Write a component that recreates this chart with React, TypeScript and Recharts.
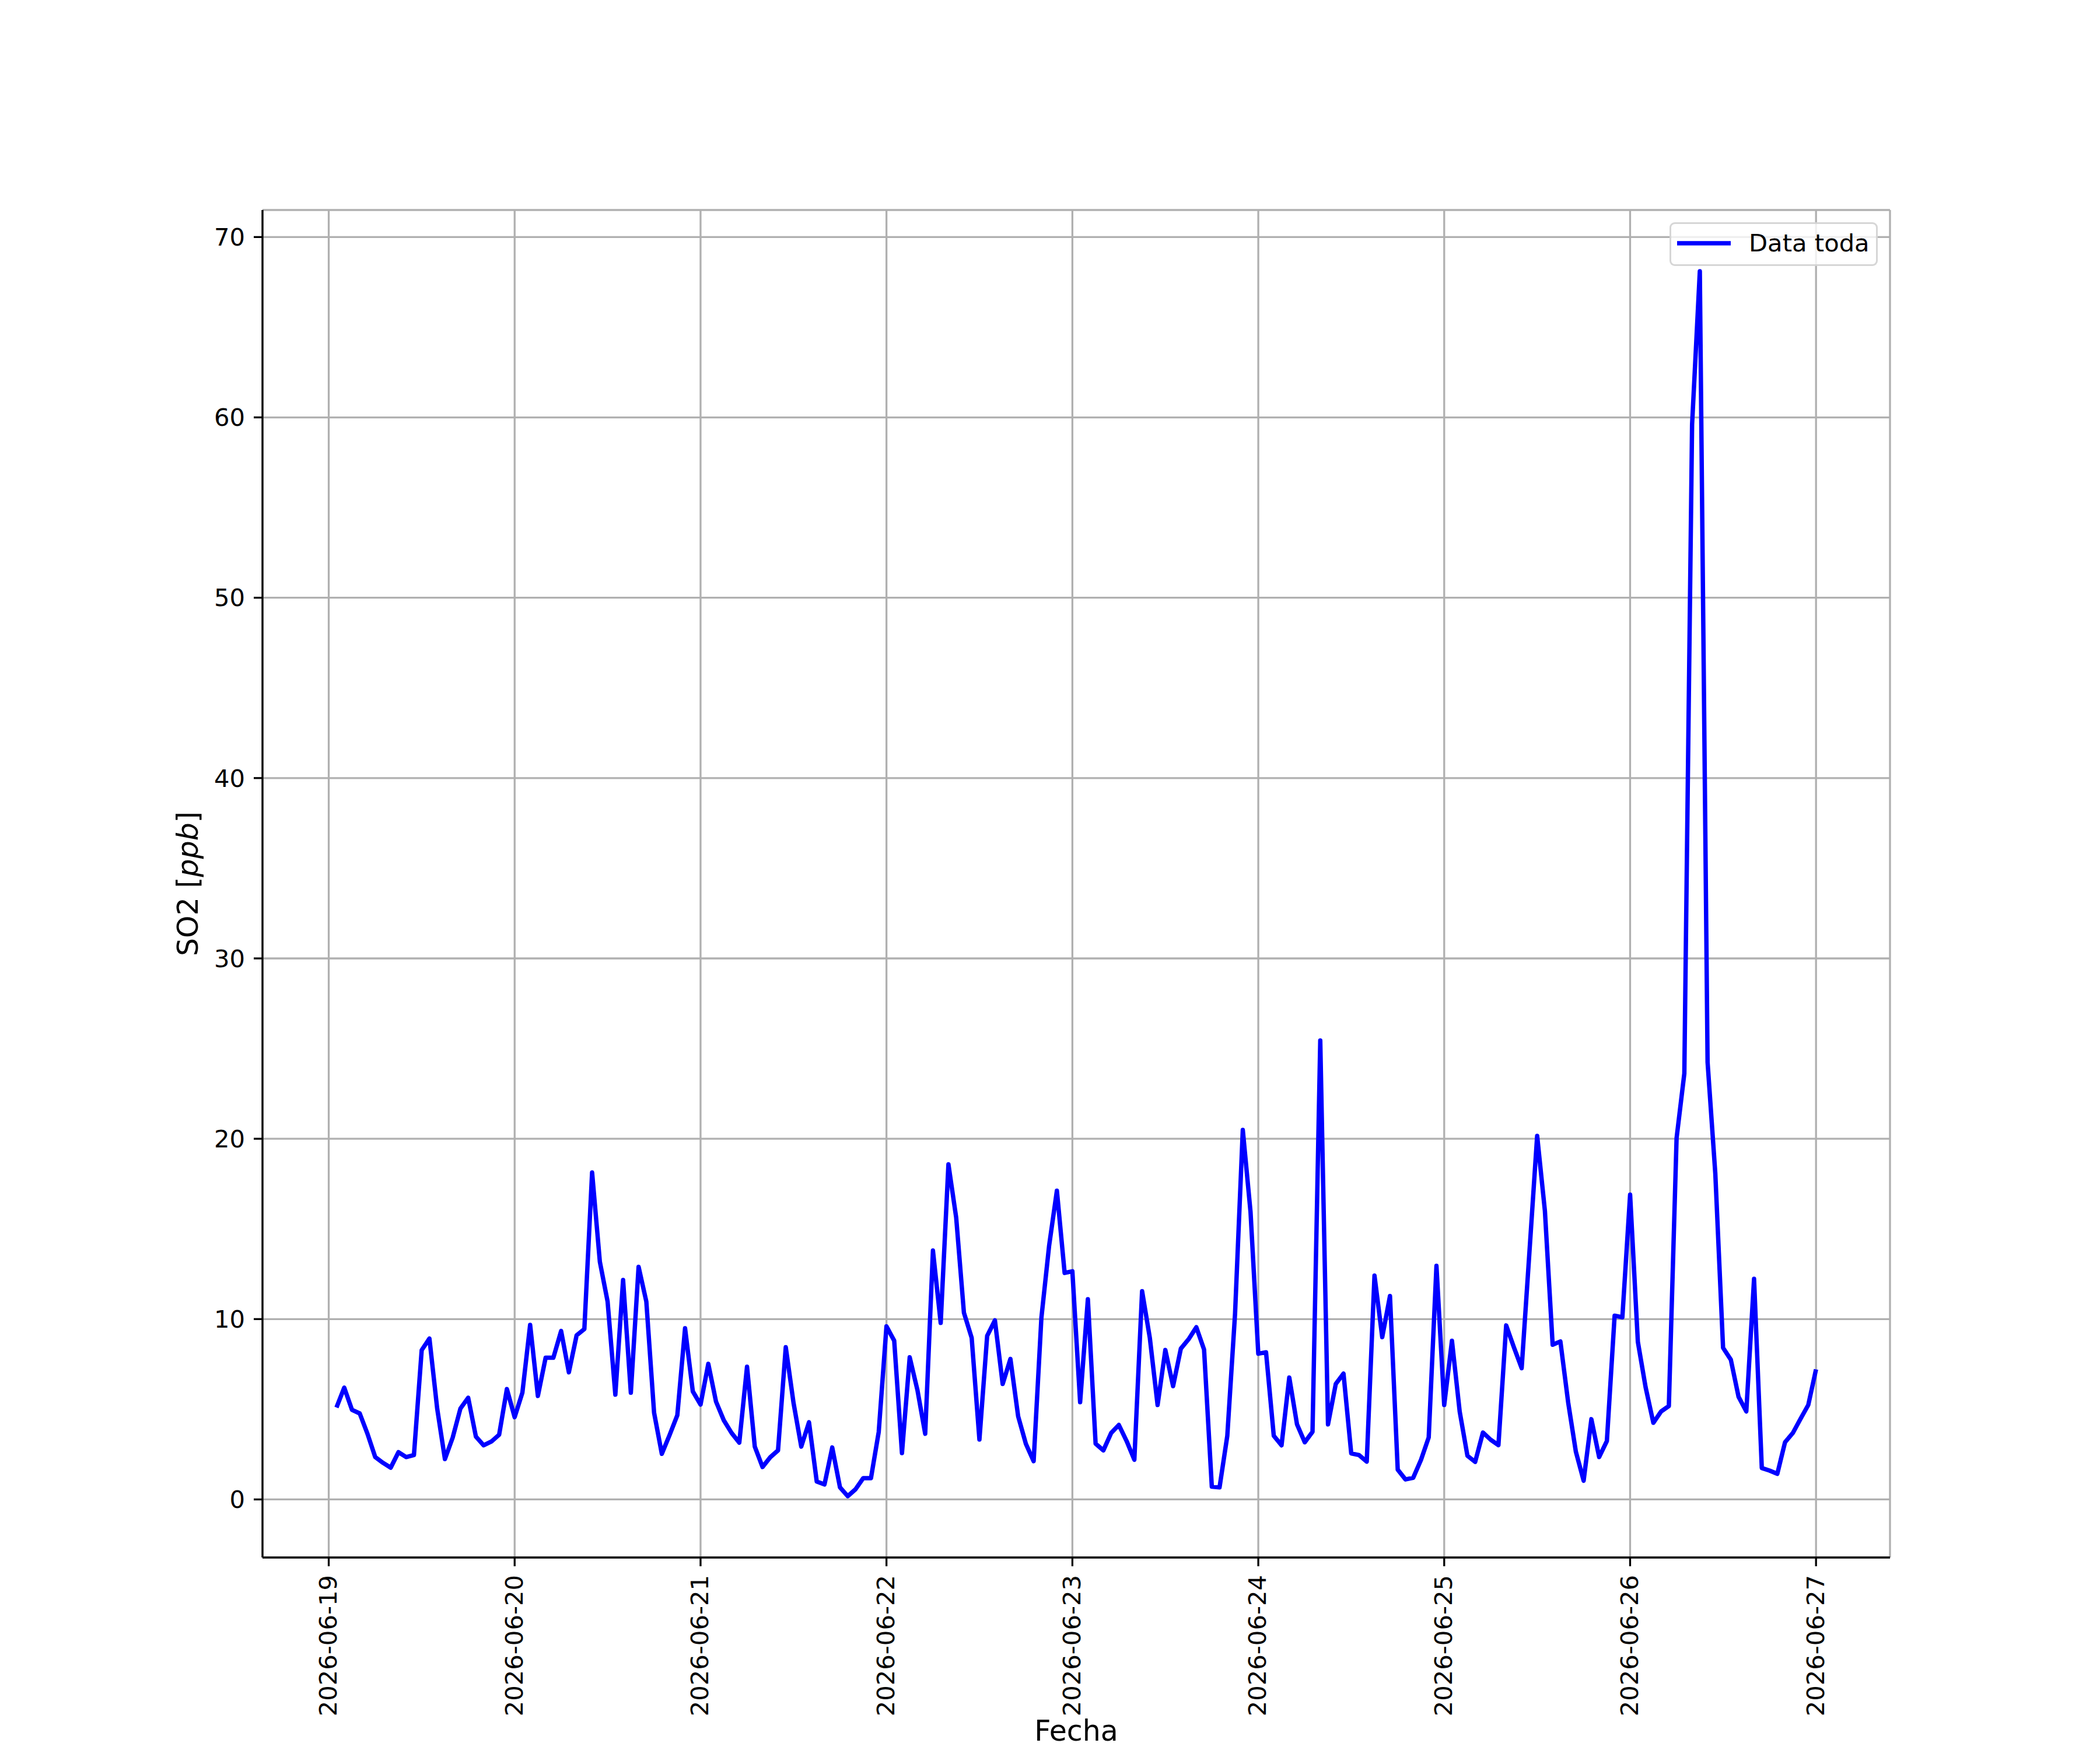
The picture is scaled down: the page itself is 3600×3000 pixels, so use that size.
import { LineChart, Line, XAxis, YAxis, CartesianGrid, Legend } from 'recharts';

// SO2 hourly values, each day array runs 01:00 .. 24:00 (last value = next day 00:00)
const so2Jun19 = [5.1, 6.2, 4.97, 4.77, 3.64, 2.35, 2.03, 1.76, 2.62, 2.35, 2.46, 8.28, 8.92, 5.04, 2.24, 3.43, 5.04, 5.64, 3.48, 3.0, 3.21, 3.59, 6.12, 4.56];
const so2Jun20 = [5.92, 9.68, 5.74, 7.86, 7.86, 9.34, 7.05, 9.1, 9.45, 18.13, 13.18, 10.97, 5.81, 12.17, 5.92, 12.9, 10.97, 4.81, 2.53, 3.57, 4.67, 9.49, 5.99, 5.26];
const so2Jun21 = [7.52, 5.42, 4.39, 3.69, 3.15, 7.36, 2.93, 1.8, 2.34, 2.72, 8.44, 5.36, 2.93, 4.28, 0.99, 0.83, 2.88, 0.67, 0.18, 0.56, 1.18, 1.18, 3.74, 9.6];
const so2Jun22 = [8.8, 2.57, 7.88, 6.06, 3.64, 13.8, 9.79, 18.58, 15.63, 10.35, 8.96, 3.32, 9.07, 9.93, 6.4, 7.79, 4.61, 3.08, 2.12, 10.07, 14.08, 17.12, 12.56, 12.65];
const so2Jun23 = [5.39, 11.1, 3.09, 2.72, 3.68, 4.13, 3.24, 2.2, 11.55, 8.95, 5.24, 8.29, 6.28, 8.36, 8.88, 9.55, 8.31, 0.71, 0.67, 3.53, 10.29, 20.49, 15.93, 8.08];
const so2Jun24 = [8.16, 3.53, 3.0, 6.76, 4.16, 3.17, 3.75, 25.45, 4.16, 6.4, 6.98, 2.55, 2.46, 2.1, 12.41, 9.0, 11.28, 1.65, 1.11, 1.2, 2.19, 3.44, 12.95, 5.24];
const so2Jun25 = [8.8, 4.87, 2.42, 2.08, 3.71, 3.31, 3.01, 9.65, 8.43, 7.28, 13.7, 20.16, 16.0, 8.58, 8.76, 5.39, 2.64, 1.04, 4.45, 2.35, 3.24, 10.19, 10.1, 16.9];
const so2Jun26 = [8.74, 6.22, 4.25, 4.88, 5.18, 20.04, 23.62, 59.6, 68.1, 24.25, 18.06, 8.41, 7.75, 5.69, 4.88, 12.23, 1.74, 1.6, 1.42, 3.17, 3.68, 4.47, 5.24, 7.21];

const dayLabels = ['2026-06-19', '2026-06-20', '2026-06-21', '2026-06-22', '2026-06-23', '2026-06-24', '2026-06-25', '2026-06-26', '2026-06-27'];
const yTicks = [0, 10, 20, 30, 40, 50, 60, 70];

const days = [so2Jun19, so2Jun20, so2Jun21, so2Jun22, so2Jun23, so2Jun24, so2Jun25, so2Jun26];
// t = hours since 2026-06-19 00:00
const rows = days.flatMap((vals, d) => vals.map((v, i) => ({ t: d * 24 + i + 1, so2: v })));
const xTicks = dayLabels.map((_, i) => i * 24);

const X_DOMAIN: [number, number] = [-8.55, 201.55];
const Y_DOMAIN: [number, number] = [-3.22, 71.5];
const FONT = 'DejaVu Sans';
const TICK_FS = 41.7;
const LABEL_FS = 49;
const LW = 3.3;
const SERIES_W = 7.5;

function DateTick({ x, y, payload }: any) {
  const idx = Math.round(payload.value / 24);
  return (
    <text
      x={0}
      y={0}
      transform={`translate(${x},${y}) rotate(-90)`}
      textAnchor="end"
      dy="0.32em"
      fontSize={TICK_FS}
      fontFamily={FONT}
      fill="#000"
    >
      {dayLabels[idx]}
    </text>
  );
}

function LegendBox() {
  return (
    <div
      style={{
        width: 357,
        height: 75,
        boxSizing: 'border-box',
        border: `${LW}px solid rgba(204,204,204,0.8)`,
        borderRadius: 9,
        background: 'rgba(255,255,255,0.8)',
        position: 'relative',
      }}
    >
      <svg width={351} height={69} style={{ position: 'absolute', left: 0, top: 0 }}>
        <line x1={10} x2={102} y1={33} y2={33} stroke="#0000ff" strokeWidth={SERIES_W} />
        <text x={133} y={47} fontSize={TICK_FS} fontFamily={FONT} fill="#000">
          Data toda
        </text>
      </svg>
    </div>
  );
}

export default function App() {
  return (
    <div style={{ width: 3600, height: 3000, background: '#fff' }}>
      <style>{'body{margin:0}'}</style>
      <LineChart
        width={3600}
        height={3000}
        data={rows}
        margin={{ top: 360, right: 360, bottom: 30, left: 250 }}
      >
        <CartesianGrid stroke="#b0b0b0" strokeWidth={LW} />
        <XAxis
          dataKey="t"
          type="number"
          domain={X_DOMAIN}
          ticks={xTicks}
          interval={0}
          height={300}
          tick={<DateTick />}
          tickSize={15}
          tickMargin={15}
          axisLine={{ stroke: '#000', strokeWidth: LW }}
          tickLine={{ stroke: '#000', strokeWidth: LW }}
          label={{
            value: 'Fecha',
            content: () => (
              <text x={1845} y={2984} textAnchor="middle" fontSize={LABEL_FS} fontFamily={FONT} fill="#000">
                Fecha
              </text>
            ),
          }}
        />
        <XAxis
          xAxisId="top"
          orientation="top"
          dataKey="t"
          type="number"
          domain={X_DOMAIN}
          height={0}
          tick={false}
          tickLine={false}
          axisLine={{ stroke: '#000', strokeWidth: LW }}
        />
        <YAxis
          type="number"
          domain={Y_DOMAIN}
          ticks={yTicks}
          interval={0}
          width={200}
          tickSize={15}
          tickMargin={15}
          tick={{ fontSize: TICK_FS, fontFamily: FONT, fill: '#000' }}
          axisLine={{ stroke: '#000', strokeWidth: LW }}
          tickLine={{ stroke: '#000', strokeWidth: LW }}
          label={{
            value: 'SO2 [ppb]',
            content: () => (
              <text
                x={0}
                y={0}
                transform="translate(339,1515) rotate(-90)"
                textAnchor="middle"
                fontSize={LABEL_FS}
                fontFamily={FONT}
                fill="#000"
              >
                SO2 [<tspan fontStyle="italic">ppb</tspan>]
              </text>
            ),
          }}
        />
        <YAxis
          yAxisId="right"
          orientation="right"
          type="number"
          domain={Y_DOMAIN}
          width={0}
          tick={false}
          tickLine={false}
          axisLine={{ stroke: '#000', strokeWidth: LW }}
        />
        <Legend
          layout="horizontal"
          verticalAlign="middle"
          align="center"
          content={() => <LegendBox />}
          wrapperStyle={{ position: 'absolute', left: 2862, top: 381, width: 357, height: 75 }}
        />
        <Line
          type="linear"
          dataKey="so2"
          name="Data toda"
          stroke="#0000ff"
          strokeWidth={SERIES_W}
          strokeLinejoin="round"
          dot={false}
          activeDot={false}
          isAnimationActive={false}
        />
      </LineChart>
    </div>
  );
}
